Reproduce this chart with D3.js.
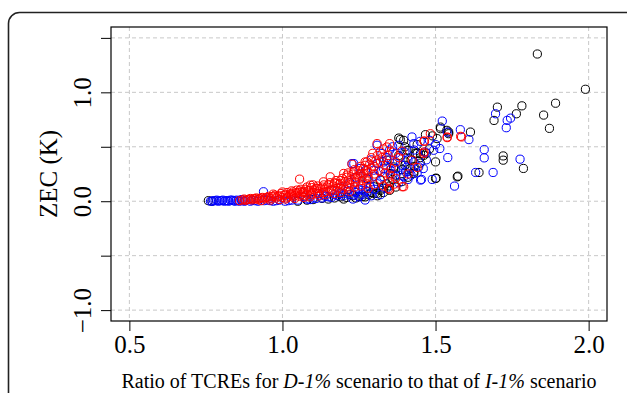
<!DOCTYPE html>
<html><head><meta charset="utf-8">
<script src="https://cdn.jsdelivr.net/npm/d3@7"></script>
<style>html,body{margin:0;padding:0;background:#fff;}svg{display:block;}</style>
</head><body>
<svg id="chart" width="627" height="393"></svg>
<script>
const xTicks = [0.5, 1.0, 1.5, 2.0];
const xTickLabels = ["0.5", "1.0", "1.5", "2.0"];
const yTicks = [-1.0, -0.5, 0.0, 0.5, 1.0, 1.5];
const yTickLabels = ["\u22121.0", "", "0.0", "", "1.0", ""];
const xDomain = [0.44, 2.06];
const yDomain = [-1.1, 1.6];

const blackPts = [[0.758,0.005],[0.77,0.0],[1.05,0.0],[1.08,0.01],[1.10,0.015],[1.129,0.026],[1.15,0.02],[1.17,0.03],[1.19,0.04],[1.21,0.035],[1.23,0.05],[1.25,0.045],[1.26,0.041],[1.28,0.06],[1.29,0.08],[1.30,0.07],[1.309,0.072],[1.298,0.133],[1.276,0.209],[1.319,0.194],[1.33,0.12],[1.34,0.16],[1.352,0.255],[1.363,0.315],[1.341,0.377],[1.363,0.301],[1.385,0.566],[1.396,0.559],[1.38,0.58],[1.402,0.361],[1.407,0.468],[1.413,0.468],[1.418,0.301],[1.429,0.270],[1.429,0.255],[1.434,0.438],[1.440,0.438],[1.451,0.438],[1.462,0.422],[1.467,0.611],[1.500,0.361],[1.500,0.209],[1.502,0.212],[1.505,0.575],[1.516,0.666],[1.516,0.681],[1.537,0.651],[1.543,0.620],[1.543,0.635],[1.571,0.224],[1.573,0.230],[1.614,0.635],[1.642,0.264],[1.691,0.742],[1.702,0.864],[1.721,0.416],[1.721,0.377],[1.764,0.803],[1.782,0.876],[1.787,0.301],[1.8325,1.352],[1.853,0.791],[1.872,0.669],[1.892,0.900],[1.9895,1.028],[1.36,0.20],[1.37,0.24],[1.39,0.29],[1.35,0.14],[1.32,0.10],[1.40,0.33],[1.42,0.38],[1.45,0.40],[1.47,0.44],[1.20,0.02],[1.24,0.03],[1.27,0.04],[1.31,0.05],[1.33,0.08],[1.35,0.10],[1.37,0.13],[1.39,0.18],[1.41,0.22],[1.43,0.32],[1.45,0.35],[1.38,0.42],[1.40,0.50],[1.44,0.52],[1.48,0.48],[1.49,0.60]];

const bluePts = [[0.77,0.0],[0.78,0.005],[0.79,0.0],[0.80,0.005],[0.81,0.0],[0.82,0.005],[0.83,0.01],[0.84,0.005],[0.85,0.01],[0.86,0.0],[0.87,0.01],[0.88,0.005],[0.90,0.01],[0.92,0.0],[0.938,0.087],[0.95,0.01],[0.97,0.0],[0.99,0.01],[1.009,0.0],[1.03,0.01],[1.069,0.041],[1.08,0.02],[1.10,0.03],[1.134,0.057],[1.15,0.04],[1.17,0.06],[1.189,0.072],[1.20,0.05],[1.21,0.09],[1.227,0.346],[1.233,0.346],[1.238,0.087],[1.233,0.057],[1.25,0.11],[1.254,0.301],[1.26,0.15],[1.270,0.011],[1.271,0.102],[1.287,0.133],[1.28,0.20],[1.298,0.285],[1.309,0.514],[1.309,0.346],[1.30,0.23],[1.31,0.16],[1.325,0.438],[1.331,0.224],[1.34,0.40],[1.35,0.47],[1.352,0.285],[1.36,0.35],[1.37,0.44],[1.380,0.514],[1.385,0.407],[1.39,0.33],[1.402,0.270],[1.396,0.224],[1.407,0.315],[1.41,0.38],[1.423,0.590],[1.429,0.529],[1.445,0.315],[1.451,0.194],[1.454,0.200],[1.467,0.452],[1.489,0.200],[1.494,0.468],[1.514,0.484],[1.522,0.736],[1.538,0.635],[1.540,0.401],[1.562,0.139],[1.581,0.657],[1.609,0.566],[1.631,0.264],[1.659,0.474],[1.659,0.398],[1.688,0.264],[1.696,0.803],[1.731,0.675],[1.734,0.742],[1.745,0.763],[1.776,0.386],[1.40,0.45],[1.43,0.36],[1.46,0.30],[1.48,0.56],[1.50,0.52],[1.33,0.30],[1.36,0.25],[1.32,0.27],[1.29,0.38],[1.27,0.28],[1.24,0.22],[1.22,0.17],[1.19,0.13],[1.16,0.10],[1.12,0.07],[1.23,0.02],[1.26,0.06],[1.29,0.05],[1.34,0.12],[1.38,0.17],[1.42,0.24],[0.765,0.0],[0.775,0.005],[0.785,0.01],[0.795,0.005],[0.805,0.01],[0.815,0.005],[0.825,0.0],[0.835,0.01],[0.845,0.0],[0.855,0.005],[0.865,0.015],[0.875,0.0],[0.895,0.0],[0.91,0.005],[0.94,0.005],[0.96,0.005],[0.98,0.005],[1.02,0.005],[1.05,0.01],[1.09,0.015],[1.11,0.025],[1.13,0.03],[1.14,0.045],[1.16,0.035],[1.18,0.05],[1.20,0.07],[1.22,0.06],[1.24,0.08],[1.25,0.04],[1.26,0.10],[1.28,0.09],[1.30,0.11],[1.32,0.06],[1.31,0.35],[1.33,0.36],[1.35,0.38],[1.37,0.30],[1.39,0.24],[1.41,0.20],[1.44,0.26],[1.47,0.38],[1.36,0.50],[1.45,0.55],[1.43,0.47]];

const redPts = [[0.86,0.005],[0.87,0.012],[0.88,0.008],[0.89,0.018],[0.90,0.012],[0.91,0.025],[0.92,0.015],[0.93,0.03],[0.94,0.02],[0.95,0.035],[0.96,0.025],[0.97,0.045],[0.98,0.03],[0.99,0.05],[1.00,0.035],[1.01,0.06],[1.02,0.045],[1.03,0.07],[1.04,0.05],[1.05,0.08],[1.056,0.203],[1.06,0.06],[1.07,0.09],[1.08,0.065],[1.09,0.10],[1.10,0.075],[1.11,0.12],[1.12,0.085],[1.13,0.13],[1.14,0.09],[1.15,0.15],[1.16,0.11],[1.17,0.17],[1.18,0.12],[1.19,0.19],[1.20,0.14],[1.21,0.22],[1.22,0.15],[1.23,0.25],[1.24,0.17],[1.25,0.28],[1.26,0.19],[1.27,0.33],[1.28,0.22],[1.29,0.40],[1.30,0.25],[0.93,0.005],[0.96,0.01],[0.99,0.015],[1.01,0.02],[1.04,0.025],[1.07,0.035],[1.09,0.04],[1.113,0.118],[1.12,0.05],[1.14,0.06],[1.17,0.07],[1.19,0.08],[1.22,0.09],[0.97,0.065],[1.00,0.085],[1.03,0.095],[1.06,0.11],[1.08,0.13],[1.10,0.15],[1.134,0.178],[1.156,0.224],[1.178,0.164],[1.20,0.255],[1.227,0.340],[1.265,0.301],[1.276,0.361],[1.270,0.361],[1.309,0.529],[1.350,0.529],[1.319,0.452],[1.233,0.270],[1.254,0.255],[1.211,0.240],[1.211,0.133],[1.238,0.178],[1.347,0.118],[1.391,0.133],[1.189,0.164],[1.270,0.209],[1.341,0.498],[1.350,0.109],[1.365,0.157],[1.352,0.240],[1.396,0.133],[1.424,0.377],[1.461,0.438],[1.462,0.452],[1.464,0.550],[1.462,0.553],[1.483,0.620],[1.538,0.584],[1.538,0.590],[1.585,0.590],[1.582,0.596],[1.091,0.148],[1.047,0.102],[1.069,0.078],[1.031,0.057],[1.30,0.32],[1.31,0.42],[1.32,0.36],[1.33,0.48],[1.29,0.30],[1.28,0.26],[1.24,0.21],[1.26,0.23],[1.32,0.20],[1.30,0.15],[1.28,0.12],[1.36,0.45],[1.38,0.40],[1.34,0.33],[1.37,0.21],[0.875,0.02],[0.885,0.015],[0.895,0.025],[0.905,0.02],[0.915,0.03],[0.925,0.025],[0.935,0.035],[0.945,0.03],[0.955,0.045],[0.965,0.04],[0.975,0.055],[0.985,0.045],[0.995,0.07],[1.005,0.055],[1.015,0.08],[1.025,0.065],[1.035,0.085],[1.045,0.075],[1.055,0.095],[1.065,0.085],[1.075,0.11],[1.085,0.095],[1.095,0.125],[1.105,0.105],[1.115,0.14],[1.125,0.115],[1.135,0.15],[1.145,0.13],[1.155,0.17],[1.165,0.14],[1.175,0.19],[1.185,0.155],[1.195,0.21],[1.205,0.18],[1.215,0.26],[1.225,0.20],[1.235,0.29],[1.245,0.23],[1.255,0.32],[1.265,0.25],[1.275,0.28],[1.285,0.34],[1.295,0.44],[1.305,0.37],[1.015,0.03],[1.035,0.04],[1.055,0.045],[1.075,0.05],[1.095,0.06],[1.115,0.07],[1.135,0.08],[1.155,0.09],[1.175,0.10],[1.195,0.11],[1.215,0.12],[1.235,0.13],[1.255,0.14],[1.275,0.16],[1.315,0.28],[1.325,0.40],[1.335,0.26],[1.345,0.42],[1.355,0.30],[1.37,0.36],[1.39,0.46],[1.41,0.25],[1.44,0.31],[1.35,0.18],[1.33,0.14]];

const seriesNames = ["black", "blue", "red"];
const seriesColors = ["#000000", "#0000ff", "#ff0000"];
const seriesData = [blackPts, bluePts, redPts];

const svg = d3.select("#chart");
const L = 111, R = 607, T = 27, B = 321;
const x = d3.scaleLinear().domain(xDomain).range([L, R]);
const y = d3.scaleLinear().domain(yDomain).range([B, T]);
const serif = "'Liberation Serif','Times New Roman',Times,serif";

// outer rounded frame
svg.append("rect").attr("x", 8.5).attr("y", 12.5).attr("width", 700).attr("height", 500)
  .attr("rx", 11).attr("ry", 11).attr("fill", "none").attr("stroke", "#222").attr("stroke-width", 1.6);

// grid
const grid = svg.append("g");
grid.selectAll("line.gx").data(xTicks).join("line")
  .attr("x1", d => x(d)).attr("x2", d => x(d)).attr("y1", T).attr("y2", B)
  .attr("stroke", "#c8c8c8").attr("stroke-dasharray", "4,3").attr("stroke-width", 1);
grid.selectAll("line.gy").data(yTicks).join("line")
  .attr("y1", d => y(d)).attr("y2", d => y(d)).attr("x1", L).attr("x2", R)
  .attr("stroke", "#c8c8c8").attr("stroke-dasharray", "4,3").attr("stroke-width", 1);

// points
seriesData.forEach((pts, i) => {
  svg.append("g").attr("class", seriesNames[i]).selectAll("circle").data(pts).join("circle")
    .attr("cx", d => x(d[0])).attr("cy", d => y(d[1])).attr("r", 4.1)
    .attr("fill", "none").attr("stroke", seriesColors[i]).attr("stroke-width", 1);
});

// box
svg.append("rect").attr("x", L).attr("y", T).attr("width", R - L).attr("height", B - T)
  .attr("fill", "none").attr("stroke", "#000").attr("stroke-width", 1.2);

// axes
const xAxis = d3.axisBottom(x).tickValues(xTicks).tickFormat((d, i) => xTickLabels[i]).tickSize(10).tickPadding(4);
const gx = svg.append("g").attr("transform", `translate(0,${B})`).call(xAxis);
gx.select(".domain").remove();
gx.selectAll("text").attr("font-family", serif).attr("font-size", 25).attr("fill", "#000").attr("dy", "0.71em");

const yAxis = d3.axisLeft(y).tickValues(yTicks).tickFormat((d, i) => yTickLabels[i]).tickSize(10).tickPadding(0);
const gy = svg.append("g").attr("transform", `translate(${L},0)`).call(yAxis);
gy.select(".domain").remove();
gy.selectAll("text").attr("font-family", serif).attr("font-size", 25).attr("fill", "#000")
  .attr("text-anchor", "middle").attr("x", null).attr("dy", null)
  .attr("transform", "translate(-20,0) rotate(-90)");

// y title
svg.append("text").attr("transform", `translate(57,${(T + B) / 2}) rotate(-90)`)
  .attr("text-anchor", "middle").attr("font-family", serif).attr("font-size", 25).text("ZEC (K)");

// x title
const xt = svg.append("text").attr("x", (L + R) / 2).attr("y", 388).attr("text-anchor", "middle")
  .attr("font-family", serif).attr("font-size", 20);
xt.append("tspan").text("Ratio of TCREs for ");
xt.append("tspan").attr("font-style", "italic").text("D-1%");
xt.append("tspan").text(" scenario to that of ");
xt.append("tspan").attr("font-style", "italic").text("I-1%");
xt.append("tspan").text(" scenario");
</script>
</body></html>
